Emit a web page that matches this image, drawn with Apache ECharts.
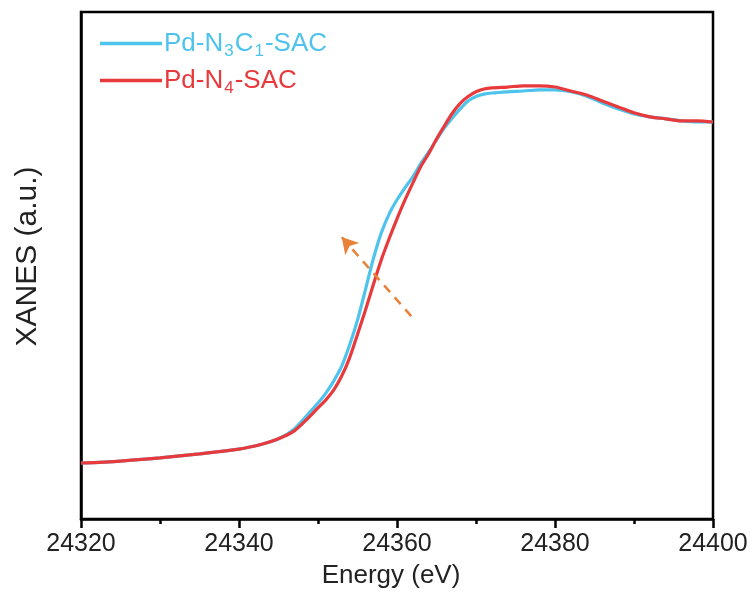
<!DOCTYPE html>
<html>
<head>
<meta charset="utf-8">
<script src="https://cdn.jsdelivr.net/npm/echarts@6/dist/echarts.min.js"></script>
<style>html,body{margin:0;padding:0;background:#fff}#c{width:754px;height:601px}</style>
</head>
<body>
<div id="c"></div>
<script>
const energy = [24320,24325,24330,24335,24340,24343,24345,24347,24349,24350,24351,24352,24353,24354,24355,24356,24357,24358,24359,24360,24361,24362,24363,24364,24365,24366,24367,24368,24369,24370,24371,24372,24374,24376,24378,24380,24382,24384,24386,24388,24390,24392,24394,24396,24398,24400];
const pdN3C1 = [0.141,0.146,0.154,0.164,0.176,0.189,0.202,0.227,0.270,0.292,0.317,0.348,0.385,0.438,0.501,0.577,0.655,0.720,0.768,0.804,0.834,0.862,0.895,0.924,0.955,0.985,1.010,1.033,1.053,1.064,1.070,1.073,1.076,1.078,1.081,1.081,1.076,1.065,1.048,1.033,1.020,1.013,1.008,1.003,1.000,1.000];
const pdN4 = [0.141,0.146,0.154,0.164,0.176,0.189,0.202,0.222,0.259,0.280,0.300,0.325,0.360,0.406,0.465,0.526,0.590,0.652,0.706,0.756,0.803,0.846,0.887,0.920,0.957,0.990,1.022,1.047,1.064,1.076,1.083,1.086,1.088,1.091,1.091,1.088,1.078,1.068,1.053,1.038,1.023,1.013,1.008,1.003,1.003,1.000];
const arrowStart = [24361.8, 0.511];
const arrowEnd = [24353.0, 0.710];
const xTicks = {min: 24320, max: 24400, interval: 20};
const seriesNames = ['Pd-N3C1-SAC', 'Pd-N4-SAC'];

const cyan = '#4EC3EC';
const red = '#E8393C';
const font = 'Arial, "Liberation Sans", sans-serif';

const chart = echarts.init(document.getElementById('c'));
chart.setOption({
  animation: false,
  backgroundColor: '#fff',
  grid: {left: 81, right: 41, top: 12, bottom: 82, show: true, borderColor: '#000', borderWidth: 2.5, backgroundColor: 'transparent'},
  legend: {
    orient: 'vertical', left: 95, top: 22, itemWidth: 62, itemHeight: 3.5, itemGap: 4,
    icon: 'rect',
    data: [
      {name: seriesNames[0], textStyle: {color: cyan}},
      {name: seriesNames[1], textStyle: {color: red}}
    ],
    formatter: function (n) {
      if (n === seriesNames[0]) return '{n|Pd-N}{s|3}{n|C}{s|1}{n|-SAC}';
      return '{n|Pd-N}{s|4}{n|-SAC}';
    },
    textStyle: {
      fontFamily: font, fontSize: 26, padding: [0,0,0,-3],
      rich: {
        n: {fontFamily: font, fontSize: 26, lineHeight: 32},
        s: {fontFamily: font, fontSize: 17, lineHeight: 16, padding: [16,1,0,1]}
      }
    }
  },
  xAxis: {
    type: 'value', min: xTicks.min, max: xTicks.max, interval: xTicks.interval,
    axisLine: {show: true, onZero: false, lineStyle: {color: '#000', width: 2.5}},
    axisTick: {show: true, inside: false, length: 9, lineStyle: {color: '#000', width: 2.5}},
    minorTick: {show: true, splitNumber: 2, length: 5, lineStyle: {color: '#000', width: 2.5}},
    splitLine: {show: false},
    axisLabel: {color: '#222', fontFamily: font, fontSize: 25, margin: 13, formatter: v => String(v)},
    name: 'Energy (eV)', nameLocation: 'middle', nameGap: 44,
    nameTextStyle: {color: '#222', fontFamily: font, fontSize: 26, padding: [0,12,0,0]}
  },
  yAxis: {
    type: 'value', min: 0, max: 1.277,
    axisLine: {show: true, onZero: false, lineStyle: {color: '#000', width: 2.5}},
    axisTick: {show: false}, axisLabel: {show: false}, splitLine: {show: false},
    name: 'XANES (a.u.)', nameLocation: 'middle', nameGap: 38,
    nameTextStyle: {color: '#222', fontFamily: font, fontSize: 30, padding: [0,0,0,18]}
  },
  series: [
    {
      name: seriesNames[0], type: 'line', showSymbol: false, symbol: 'none', smooth: 0.3,
      data: energy.map((e, i) => [e, pdN3C1[i]]),
      lineStyle: {color: cyan, width: 3.2}, itemStyle: {color: cyan}, z: 2
    },
    {
      name: seriesNames[1], type: 'line', showSymbol: false, symbol: 'none', smooth: 0.3,
      data: energy.map((e, i) => [e, pdN4[i]]),
      lineStyle: {color: red, width: 3.2}, itemStyle: {color: red}, z: 3,
      markLine: {
        silent: true, symbol: ['none', 'arrow'], symbolSize: [14, 16],
        label: {show: false},
        lineStyle: {color: '#E8823A', width: 2.5, type: [9, 7]},
        data: [[{coord: arrowStart}, {coord: arrowEnd}]]
      }
    }
  ]
});
</script>
</body>
</html>
